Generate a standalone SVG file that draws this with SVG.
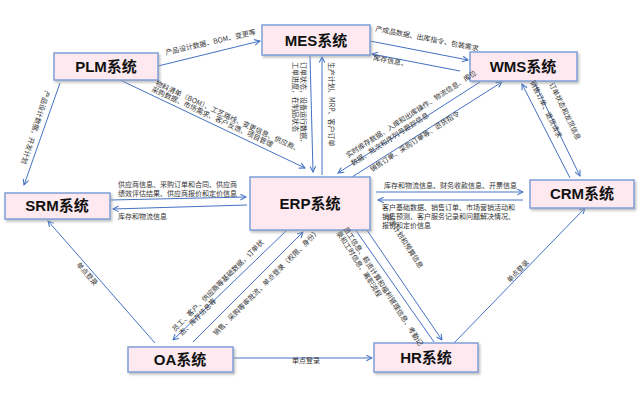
<svg xmlns="http://www.w3.org/2000/svg" width="640" height="400" viewBox="0 0 640 400">
<defs>
<marker id="ar" viewBox="0 0 10 10" refX="9" refY="5" markerWidth="7" markerHeight="7" orient="auto"><path d="M1,1 L9,5 L1,9" fill="none" stroke="#4472c4" stroke-width="1.5"/></marker>
<filter id="sh" x="-10%" y="-10%" width="130%" height="140%"><feDropShadow dx="1.5" dy="2" stdDeviation="1" flood-color="#999" flood-opacity="0.6"/></filter>
</defs>
<style>
.n rect{fill:#fde9ef;stroke:#7f9fd6;stroke-width:1.5;filter:url(#sh)}
.n text{font-family:"Liberation Sans","Noto Sans CJK SC",sans-serif;font-weight:bold;font-size:15px;fill:#111;text-anchor:middle}
.c line{stroke:#4472c4;stroke-width:1;marker-end:url(#ar)}
.l{font-family:"Noto Sans CJK SC",sans-serif;font-size:7px;fill:#333}
</style>
<rect width="640" height="400" fill="#fff"/>
<g class="c">
<line x1="158" y1="66" x2="260" y2="41"/>
<line x1="120" y1="80" x2="305" y2="168"/>
<line x1="310" y1="56" x2="313" y2="172"/>
<line x1="322" y1="175" x2="322" y2="57"/>
<line x1="370" y1="41" x2="468" y2="60"/>
<line x1="460" y1="71" x2="372" y2="54"/>
<line x1="480" y1="82" x2="338" y2="173"/>
<line x1="352" y1="177" x2="502" y2="82"/>
<line x1="570" y1="178" x2="522" y2="84"/>
<line x1="535" y1="84" x2="580" y2="176"/>
<line x1="376" y1="192" x2="523" y2="192"/>
<line x1="523" y1="200" x2="378" y2="200"/>
<line x1="111" y1="200" x2="246" y2="197"/>
<line x1="247" y1="205" x2="113" y2="209"/>
<line x1="60" y1="83" x2="24" y2="185"/>
<line x1="155" y1="343" x2="48" y2="221"/>
<line x1="287" y1="230" x2="173" y2="340"/>
<line x1="193" y1="342" x2="303" y2="232"/>
<line x1="234" y1="358" x2="372" y2="358"/>
<line x1="434" y1="342" x2="350" y2="222"/>
<line x1="360" y1="220" x2="442" y2="340"/>
<line x1="454" y1="343" x2="585" y2="208"/>
</g>
<g id="PLM" class="n"><rect x="54" y="53" width="104" height="27"/><text x="106" y="72">PLM系统</text></g>
<g id="MES" class="n"><rect x="262" y="25" width="108" height="30"/><text x="316" y="46">MES系统</text></g>
<g id="WMS" class="n"><rect x="470" y="52" width="107" height="29"/><text x="523" y="72">WMS系统</text></g>
<g id="SRM" class="n"><rect x="5" y="193" width="105" height="26"/><text x="57" y="211">SRM系统</text></g>
<g id="ERP" class="n"><rect x="250" y="177" width="120" height="53"/><text x="310" y="209">ERP系统</text></g>
<g id="CRM" class="n"><rect x="530" y="180" width="104" height="28"/><text x="582" y="199">CRM系统</text></g>
<g id="OA" class="n"><rect x="128" y="347" width="105" height="25"/><text x="180" y="365">OA系统</text></g>
<g id="HR" class="n"><rect x="374" y="343" width="104" height="29"/><text x="426" y="363">HR系统</text></g>
<g id="labels">
<text class="l" transform="translate(166,55) rotate(-13)">产品设计数据、BOM、变更等</text>
<text class="l" transform="translate(155,85) rotate(25)">物料清单（BOM）、工艺路线、变更信息、供应商、</text>
<text class="l" transform="translate(151,91) rotate(25)">采购数据、市场需求、客户反馈、项目管理</text>
<text class="l" transform="translate(301,62) rotate(90)">订单状态，设备运行数据，</text>
<text class="l" transform="translate(293,62) rotate(90)">工单进度，在制品状态</text>
<text class="l" transform="translate(329,62) rotate(90)">生产计划、MRP、客户订单</text>
<text class="l" transform="translate(375,31) rotate(11)">产成品数据、出库指令、包装需求</text>
<text class="l" transform="translate(373,60) rotate(11)">库存信息、</text>
<text class="l" transform="translate(348,158) rotate(-33)">实时库存数据、入库和出库操作、物流信息、库位</text>
<text class="l" transform="translate(353,166) rotate(-33)">数据、批次和序列号跟踪信息</text>
<text class="l" transform="translate(372,172) rotate(-33)">销售订单、采购订单等、退货指令</text>
<text class="l" transform="translate(530,82) rotate(64)">销售订单、退货请求</text>
<text class="l" transform="translate(549,84) rotate(64)">订单状态和发货信息</text>
<text class="l" transform="translate(384,188)">库存和物流信息、财务收款信息、开票信息</text>
<text class="l" transform="translate(382,210)">客户基础数据、销售订单、市场营销活动和</text>
<text class="l" transform="translate(382,219)">销售预测、客户服务记录和问题解决情况、</text>
<text class="l" transform="translate(382,228)">报价和定价信息</text>
<text class="l" transform="translate(118,187)">供应商信息、采购订单和合同、供应商</text>
<text class="l" transform="translate(118,196)">绩效评估结果、供应商报价和定价信息</text>
<text class="l" transform="translate(118,219)">库存和物流信息</text>
<text class="l" transform="translate(45,90) rotate(108)">产品设计数据，开发计划</text>
<text class="l" transform="translate(76,265) rotate(49)">单点登录</text>
<text class="l" transform="translate(175,332) rotate(-45)">员工、客户、供应商等基础数据，订单状</text>
<text class="l" transform="translate(182,336) rotate(-45)">态、库存信息等</text>
<text class="l" transform="translate(216,336) rotate(-45)">销售、采购等审批流，单点登录（权限、身份）</text>
<text class="l" transform="translate(292,363)">单点登录</text>
<text class="l" transform="translate(343,229) rotate(57)">员工信息、薪资计算和福利管理信息、考勤记</text>
<text class="l" transform="translate(336,233) rotate(57)">录和工时信息、离职流程</text>
<text class="l" transform="translate(385,216) rotate(57)">资源计划和预算信息</text>
<text class="l" transform="translate(510,283) rotate(-46)">单点登录</text>
</g>
</svg>
